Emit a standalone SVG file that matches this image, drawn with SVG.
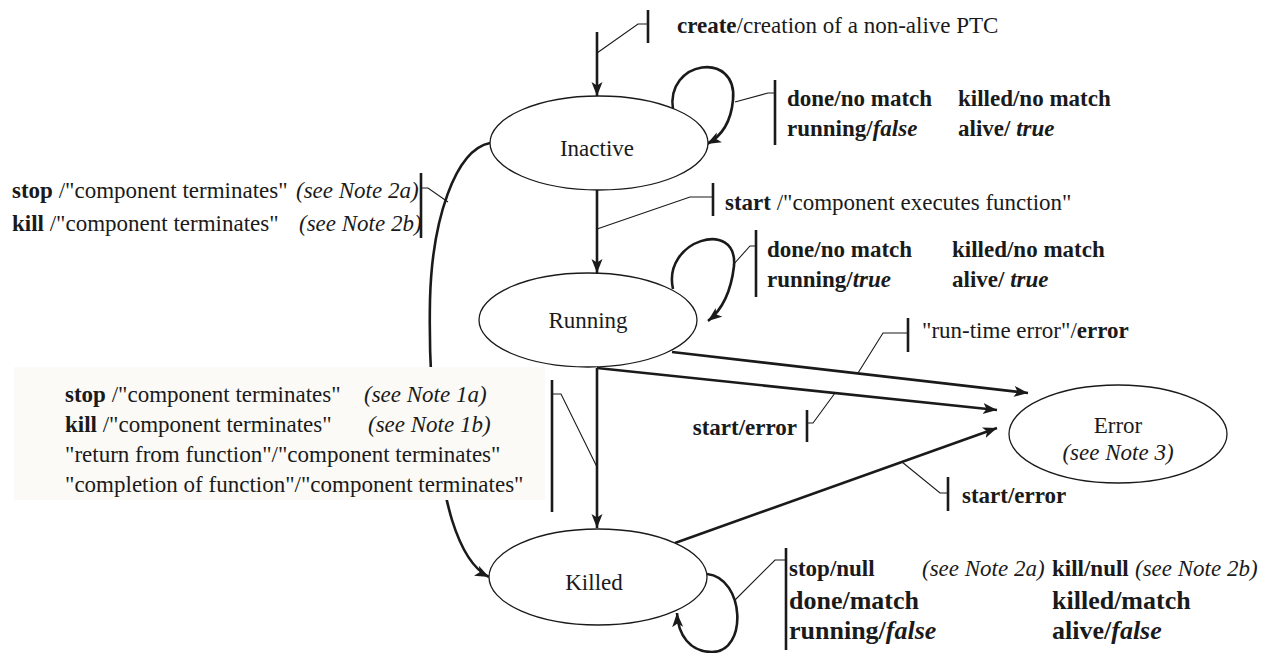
<svg xmlns="http://www.w3.org/2000/svg" width="1265" height="653" viewBox="0 0 1265 653" font-family="'Liberation Serif', 'DejaVu Serif', serif">
  <defs>
    <marker id="arrow" markerUnits="userSpaceOnUse" markerWidth="16" markerHeight="12" refX="14" refY="6" orient="auto" viewBox="0 0 16 12">
      <path d="M0,0.5 L14,6 L0,11.5 L3.5,6 z" fill="#1a1a1a"/>
    </marker>
    <style>
      text { font-family: 'Liberation Serif', 'DejaVu Serif', serif; font-size: 23px; fill: #1a1a1a; }
      .b { font-weight: bold; }
      .i { font-style: italic; }
      .big { font-size: 26px; }
      .mid { text-anchor: middle; }
      .end { text-anchor: end; }
      .state { fill: #ffffff; stroke: #1a1a1a; stroke-width: 1.3; }
      .edge { fill: none; stroke: #1a1a1a; stroke-width: 2.6; marker-end: url(#arrow); }
      .lead { fill: none; stroke: #1a1a1a; stroke-width: 1.1; }
      .bar { fill: none; stroke: #1a1a1a; stroke-width: 2.6; }
    </style>
  </defs>

  <rect width="1265" height="653" fill="#ffffff"/>

  <!-- transitions -->
  <g id="connectors">
    <path class="edge" d="M597,32 L597,96"/>
    <path class="edge" d="M673,110 C665,60 738,50 733,100 C731,122 722,136 707,144"/>
    <path class="edge" d="M597,190 L597,273"/>
    <path class="edge" d="M673,289 C662,240 738,218 734,266 C731,292 722,310 708,321"/>
    <path class="edge" d="M672,352 L1028,393"/>
    <path class="edge" d="M597,368 L997,410"/>
    <path class="edge" d="M597,368 L597,528"/>
    <path class="edge" d="M675,543 L997,428"/>
    <path class="edge" d="M707,574 C745,578 748,652 712,652 C690,652 678,635 677,613"/>
    <path class="edge" d="M490,143 C455,150 432,220 430,300 C428,400 440,480 452,520 C462,552 475,570 489,577"/>
  </g>

  <!-- states -->
  <g id="inactive">
    <ellipse class="state" cx="599" cy="143" rx="109" ry="47"/>
    <text class="mid" x="597" y="156">Inactive</text>
  </g>
  <g id="running">
    <ellipse class="state" cx="588" cy="320" rx="109" ry="47"/>
    <text class="mid" x="588" y="328">Running</text>
  </g>
  <g id="killed">
    <ellipse class="state" cx="598" cy="577" rx="109" ry="48"/>
    <text class="mid" x="594" y="590">Killed</text>
  </g>
  <g id="error">
    <ellipse class="state" cx="1118" cy="434" rx="109" ry="49"/>
    <text class="mid" x="1118" y="433">Error</text>
    <text class="mid i" x="1118" y="460">(see Note 3)</text>
  </g>

  <!-- transition labels with their leader lines -->
  <g id="labels">
    <g id="label-create">
      <path class="lead" d="M597,53 L638,24 L648,24"/>
      <path class="bar" d="M648,10 V43"/>
      <text x="677" y="33"><tspan class="b">create</tspan>/creation of a non-alive PTC</text>
    </g>

    <g id="label-inactive-loop">
      <path class="lead" d="M735,102 L768,93 L775,93"/>
      <path class="bar" d="M775,80 V145"/>
      <text class="b" x="787" y="106">done/no match</text>
      <text class="b" x="787" y="136">running/<tspan class="i">false</tspan></text>
      <text class="b" x="958" y="106">killed/no match</text>
      <text class="b" x="958" y="136">alive/ <tspan class="i">true</tspan></text>
    </g>

    <g id="label-start">
      <path class="lead" d="M597,229 L690,197 L713,197"/>
      <path class="bar" d="M713,183 V216"/>
      <text x="725" y="210"><tspan class="b">start</tspan> /"component executes function"</text>
    </g>

    <g id="label-running-loop">
      <path class="lead" d="M733,265 L750,246 L756,246"/>
      <path class="bar" d="M756,230 V297"/>
      <text class="b" x="767" y="257">done/no match</text>
      <text class="b" x="767" y="287">running/<tspan class="i">true</tspan></text>
      <text class="b" x="952" y="257">killed/no match</text>
      <text class="b" x="952" y="287">alive/ <tspan class="i">true</tspan></text>
    </g>

    <g id="label-inactive-killed">
      <path class="bar" d="M421,173 V238"/>
      <path class="lead" d="M421,188 L428,188 L448,202"/>
      <text x="12" y="198"><tspan class="b">stop</tspan> /"component terminates"</text>
      <text class="i" x="296" y="198">(see Note 2a)</text>
      <text x="12" y="231"><tspan class="b">kill</tspan> /"component terminates"</text>
      <text class="i" x="299" y="231">(see Note 2b)</text>
    </g>

    <g id="label-running-killed">
      <rect x="14" y="367" width="531" height="133" fill="#fbfaf7"/>
      <path class="bar" d="M552,380 V512"/>
      <path class="lead" d="M552,394 L561,394 L597,467"/>
      <text x="65" y="402"><tspan class="b">stop</tspan> /"component terminates"</text>
      <text class="i" x="364" y="402">(see Note 1a)</text>
      <text x="65" y="432"><tspan class="b">kill</tspan> /"component terminates"</text>
      <text class="i" x="368" y="432">(see Note 1b)</text>
      <text x="65" y="462">"return from function"/"component terminates"</text>
      <text x="65" y="492">"completion of function"/"component terminates"</text>
    </g>

    <g id="label-runtime-error">
      <path class="lead" d="M858,373 L883,333 L908,333"/>
      <path class="bar" d="M908,318 V352"/>
      <text x="922" y="338">"run-time error"/<tspan class="b">error</tspan></text>
    </g>

    <g id="label-running-error">
      <path class="lead" d="M835,393 L813,423 L807,423"/>
      <path class="bar" d="M807,410 V442"/>
      <text class="b end" x="797" y="435">start/error</text>
    </g>

    <g id="label-killed-error">
      <path class="lead" d="M902,462 L940,493 L948,493"/>
      <path class="bar" d="M948,477 V511"/>
      <text class="b" x="962" y="503">start/error</text>
    </g>

    <g id="label-killed-loop">
      <path class="lead" d="M735,600 L775,560 L786,560"/>
      <path class="bar" d="M786,548 V650"/>
      <text class="b" x="789" y="576">stop/null</text>
      <text class="i" x="922" y="576">(see Note 2a)</text>
      <text class="b" x="1052" y="576">kill/null</text>
      <text class="i" x="1135" y="576">(see Note 2b)</text>
      <text class="b big" x="789" y="609">done/match</text>
      <text class="b big" x="789" y="639">running/<tspan class="i">false</tspan></text>
      <text class="b big" x="1052" y="609">killed/match</text>
      <text class="b big" x="1052" y="639">alive/<tspan class="i">false</tspan></text>
    </g>
  </g>
</svg>
